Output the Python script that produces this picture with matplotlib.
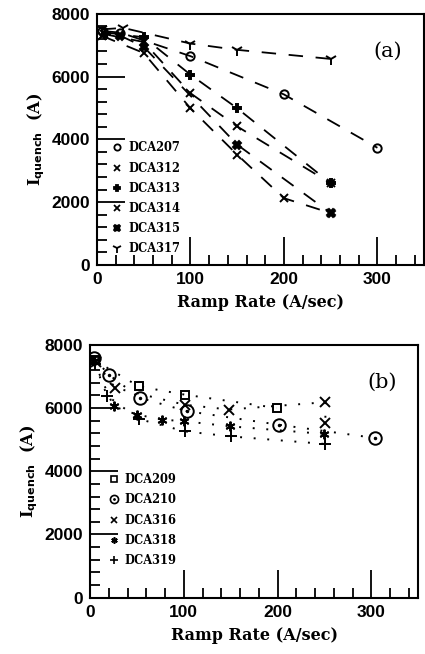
import matplotlib.pyplot as plt
from matplotlib.ticker import MultipleLocator
from matplotlib.lines import Line2D

# panel (a) data
a_names = ['DCA207', 'DCA312', 'DCA313', 'DCA314', 'DCA315', 'DCA317']
a_x = {
    'DCA207': [5, 25, 100, 200, 300],
    'DCA312': [8, 50, 100, 150, 250],
    'DCA313': [10, 50, 100, 150, 250],
    'DCA314': [5, 50, 100, 150, 200, 250],
    'DCA315': [25, 50, 150, 250],
    'DCA317': [5, 28, 100, 150, 250],
}
a_y = {
    'DCA207': [7450, 7400, 6650, 5430, 3730],
    'DCA312': [7350, 7100, 5470, 4410, 2600],
    'DCA313': [7400, 7250, 6060, 4990, 2600],
    'DCA314': [7300, 6750, 4990, 3510, 2125, 1650],
    'DCA315': [7300, 6950, 3830, 1650],
    'DCA317': [7500, 7550, 7050, 6850, 6560],
}
a_mk = {'DCA207': 'o', 'DCA312': 'x', 'DCA313': 'P', 'DCA314': 'x',
        'DCA315': 'X', 'DCA317': '1'}

# panel (b) data
b_names = ['DCA209', 'DCA210', 'DCA316', 'DCA318', 'DCA319']
b_x = {
    'DCA209': [5, 52, 101, 199],
    'DCA210': [4, 20, 53, 103, 201, 304],
    'DCA316': [6, 27, 101, 148, 251, 251],
    'DCA318': [4, 25, 50, 77, 100, 149, 249],
    'DCA319': [5, 18, 52, 101, 150, 251],
}
b_y = {
    'DCA209': [7500, 6680, 6420, 6000],
    'DCA210': [7580, 7050, 6320, 5900, 5470, 5050],
    'DCA316': [7450, 6630, 6100, 5950, 6180, 5530],
    'DCA318': [7470, 6050, 5790, 5630, 5580, 5420, 5180],
    'DCA319': [7400, 6390, 5650, 5260, 5100, 4860],
}

tickfont = {'family': 'Liberation Sans', 'weight': 'bold', 'size': 12.5}
labfont = {'family': 'DejaVu Serif', 'weight': 'bold', 'size': 11.5}
legfont = {'family': 'DejaVu Serif', 'weight': 'bold', 'size': 8.3}

fig = plt.figure(figsize=(4.25, 6.54), dpi=100)
ax1 = fig.add_axes([0.228, 0.595, 0.77, 0.384])
ax2 = fig.add_axes([0.212, 0.086, 0.772, 0.387])


def style(ax, tag):
    ax.set_xlim(0, 350)
    ax.set_ylim(0, 8000)
    ax.xaxis.set_major_locator(MultipleLocator(100))
    ax.xaxis.set_minor_locator(MultipleLocator(20))
    ax.yaxis.set_major_locator(MultipleLocator(2000))
    ax.yaxis.set_minor_locator(MultipleLocator(400))
    ax.tick_params(which='major', direction='in', length=20, width=1.3,
                   top=False, right=False, pad=5)
    ax.tick_params(which='minor', direction='in', length=7, width=1.3,
                   top=False, right=False)
    for lab in ax.get_xticklabels() + ax.get_yticklabels():
        lab.set_fontproperties(tickfont)
    for s in ax.spines.values():
        s.set_linewidth(1.5)
    ax.set_xlabel('Ramp Rate (A/sec)', fontdict=labfont, labelpad=5)
    ax.set_ylabel(r'I$_{\mathbf{quench}}$  (A)', fontdict=labfont, labelpad=3)
    ax.text(311, 6800, tag, fontsize=15, family='DejaVu Serif',
            ha='center', va='center')


# panel (a)
for n in a_names:
    ax1.plot(a_x[n], a_y[n], color='black', lw=1.3, ls=(0, (8, 7)),
             marker=a_mk[n], ms=6 if a_mk[n] != '1' else 9,
             mfc='none' if a_mk[n] == 'o' else 'black', mec='black',
             mew=1.4, label=n)
style(ax1, '(a)')
ax1.legend(handles=[Line2D([], [], ls='none', marker=a_mk[n],
                           ms=4.5 if a_mk[n] != '1' else 7,
                           color='black', mfc='none' if a_mk[n] == 'o' else 'black',
                           mew=1.3) for n in a_names],
           labels=a_names, loc='upper left', bbox_to_anchor=(0.04, 0.51),
           frameon=False, handlelength=0.5, handletextpad=0.7,
           labelspacing=0.62, borderaxespad=0, prop=legfont)

# panel (b)
b_style = {
    'DCA209': dict(marker='s', ms=6, mfc='none'),
    'DCA210': dict(marker='o', ms=9, mfc='none'),
    'DCA316': dict(marker='x', ms=7, mfc='black'),
    'DCA318': dict(marker=(6, 2, 0), ms=7, mfc='black'),
    'DCA319': dict(marker='+', ms=8, mfc='black'),
}
for n in b_names:
    ax2.plot(b_x[n], b_y[n], color='black', lw=1.4, ls=(0, (1, 6)),
             mec='black', mew=1.4, **b_style[n])
ax2.plot(b_x['DCA210'], b_y['DCA210'], ls='none', marker='.', ms=3,
         color='black')
style(ax2, '(b)')
handles = []
for n in b_names:
    h = Line2D([], [], ls='none', color='black', mec='black', mew=1.2,
               **dict(b_style[n], ms=b_style[n]['ms'] * 0.65))
    if n == 'DCA210':
        h = (h, Line2D([], [], ls='none', marker='.', ms=2, color='black'))
    handles.append(h)
ax2.legend(handles=handles, labels=b_names, loc='upper left',
           bbox_to_anchor=(0.05, 0.51), frameon=False, handlelength=0.5,
           handletextpad=0.7, labelspacing=0.62, borderaxespad=0,
           prop=legfont)

fig.savefig('out.png', dpi=100)
